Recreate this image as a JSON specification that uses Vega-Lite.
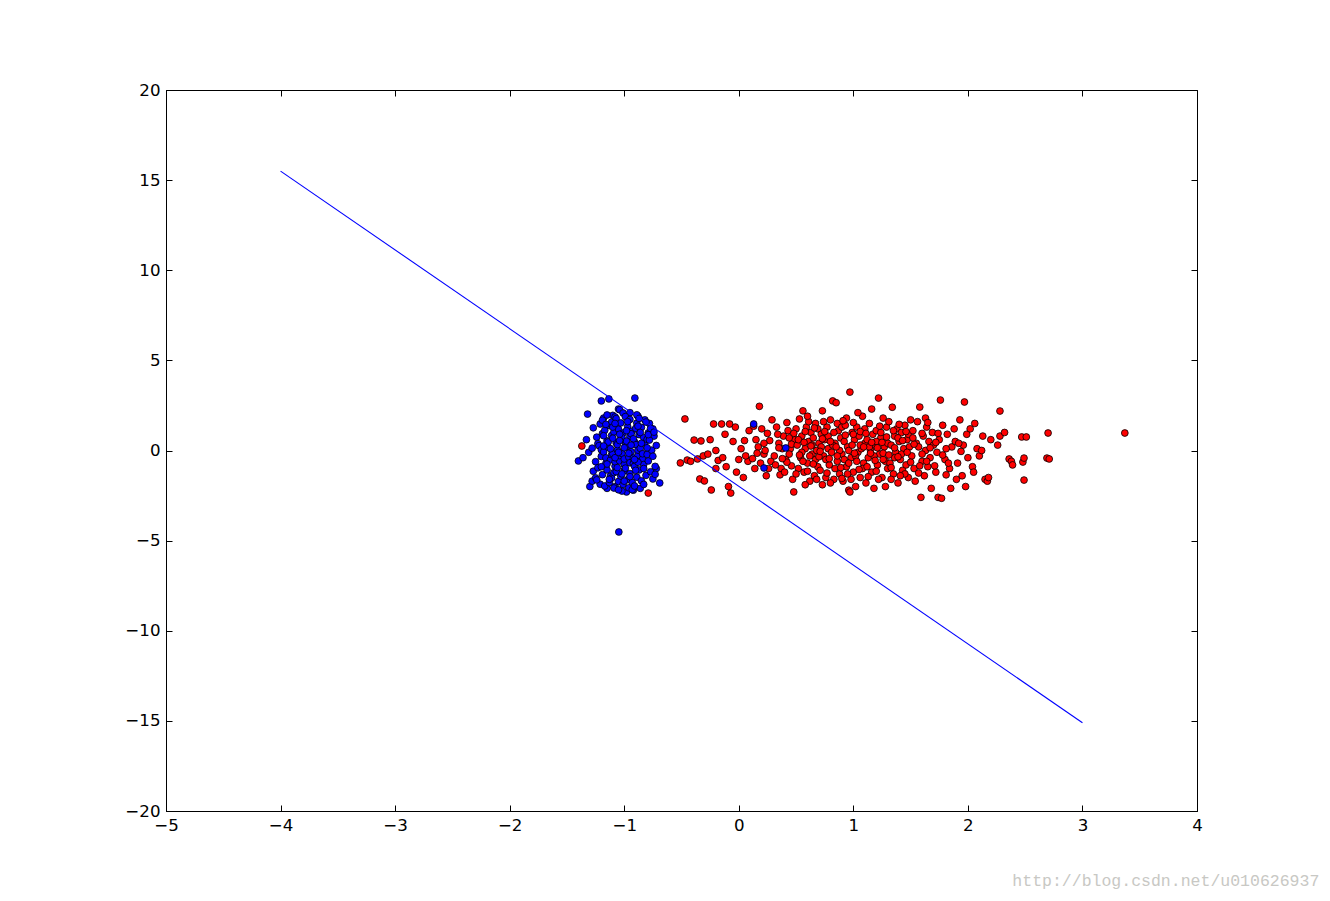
{
"$schema": "https://vega.github.io/schema/vega-lite/v6.json",
"width": 1031, "height": 721,
"autosize": {"type": "none"},
"padding": {"left": 166, "top": 90, "right": 133, "bottom": 90},
"background": "white",
"title": {"text": "http://blog.csdn.net/u010626937", "orient": "bottom", "anchor": "end", "dx": 117, "offset": 39, "font": "Liberation Mono", "fontSize": 16.5, "fontWeight": "normal", "color": "#c8c8c4", "baseline": "top"},
"config": {
  "view": {"stroke": "black", "strokeWidth": 1},
  "axis": {"grid": false, "labelFont": "DejaVu Sans", "labelFontSize": 16.67, "labelColor": "black", "tickColor": "black", "domainColor": "black", "domainWidth": 1, "tickWidth": 1, "tickSize": -6, "labelPadding": 12, "title": null, "labelOverlap": false, "labelFlush": false}
},
"datasets": {
  "red": [
{"x":-1.37,"y":0.25},{"x":-0.79,"y":-2.36},
{"x":-0.47,"y":1.75},{"x":-0.51,"y":-0.69},{"x":-0.45,"y":-0.53},{"x":-0.39,"y":0.58},{"x":-0.36,"y":-0.47},{"x":-0.34,"y":-1.58},{"x":-0.30,"y":-1.69},{"x":-0.33,"y":0.53},{"x":-0.42,"y":-0.6},{"x":-0.31,"y":-0.3},
{"x":-0.24,"y":-2.19},{"x":-0.22,"y":1.47},{"x":-0.15,"y":1.47},{"x":-0.27,"y":-0.2},{"x":-0.2,"y":0.0},{"x":-0.18,"y":-0.55},{"x":-0.12,"y":0.9},{"x":-0.25,"y":0.6},{"x":-0.14,"y":-0.4},{"x":-0.11,"y":-0.9},{"x":-0.2,"y":-1.0},
{"x":-0.07,"y":-2.36},{"x":-0.09,"y":-2.0},{"x":-0.08,"y":1.47},{"x":-0.03,"y":1.3},{"x":-0.05,"y":0.5},{"x":0.0,"y":-0.5},{"x":0.02,"y":0.1},{"x":0.05,"y":0.55},{"x":0.08,"y":-0.6},{"x":-0.02,"y":-1.2},{"x":0.06,"y":-0.3},{"x":0.09,"y":1.1},{"x":0.04,"y":-1.5},
{"x":0.12,"y":-0.45},{"x":0.15,"y":0.6},{"x":0.18,"y":2.45},{"x":0.2,"y":1.2},{"x":0.22,"y":-0.2},{"x":0.25,"y":0.95},{"x":0.28,"y":-0.6},{"x":0.14,"y":-1.0},{"x":0.17,"y":0.2},{"x":0.24,"y":-1.4},{"x":0.27,"y":0.55},{"x":0.19,"y":-0.7},{"x":0.29,"y":1.7},{"x":0.23,"y":0.0},{"x":0.13,"y":1.35},
{"x":0.31,"y":-0.3},{"x":0.33,"y":1.3},{"x":0.35,"y":0.4},{"x":0.37,"y":-1.0},{"x":0.39,"y":0.8},{"x":0.41,"y":-0.5},{"x":0.43,"y":1.1},{"x":0.45,"y":0.1},{"x":0.47,"y":-1.6},{"x":0.49,"y":0.6},{"x":0.32,"y":-0.8},{"x":0.34,"y":0.9},{"x":0.36,"y":-1.35},{"x":0.38,"y":0.1},{"x":0.42,"y":1.55},{"x":0.44,"y":-0.2},{"x":0.46,"y":0.35},{"x":0.48,"y":-2.3},{"x":0.5,"y":1.2},{"x":0.4,"y":-1.2},{"x":0.46,"y":-0.85},
{"x":0.51,"y":0.3},{"x":0.52,"y":-1.0},{"x":0.53,"y":1.75},{"x":0.54,"y":-0.4},{"x":0.55,"y":0.8},{"x":0.56,"y":2.2},{"x":0.57,"y":-1.2},{"x":0.58,"y":0.1},{"x":0.59,"y":1.3},{"x":0.6,"y":-0.7},{"x":0.61,"y":0.5},{"x":0.62,"y":-1.7},{"x":0.63,"y":1.0},{"x":0.64,"y":-0.2},{"x":0.65,"y":0.7},{"x":0.66,"y":-1.4},{"x":0.67,"y":1.5},{"x":0.68,"y":0.0},{"x":0.69,"y":-0.9},{"x":0.7,"y":0.4},{"x":0.52,"y":0.6},{"x":0.55,"y":-0.1},{"x":0.58,"y":-1.9},{"x":0.61,"y":1.6},{"x":0.64,"y":0.3},{"x":0.67,"y":-0.5},{"x":0.69,"y":1.2},{"x":0.56,"y":-0.6},{"x":0.62,"y":-0.3},
{"x":0.71,"y":-1.1},{"x":0.72,"y":0.9},{"x":0.73,"y":2.2},{"x":0.74,"y":-0.3},{"x":0.75,"y":0.6},{"x":0.76,"y":-1.5},{"x":0.77,"y":1.3},{"x":0.78,"y":0.1},{"x":0.79,"y":-0.8},{"x":0.8,"y":1.7},{"x":0.81,"y":-0.1},{"x":0.82,"y":2.75},{"x":0.83,"y":-1.6},{"x":0.84,"y":0.4},{"x":0.85,"y":2.65},{"x":0.86,"y":-0.6},{"x":0.87,"y":1.1},{"x":0.88,"y":-1.3},{"x":0.89,"y":0.7},{"x":0.9,"y":-0.2},{"x":0.72,"y":0.2},{"x":0.74,"y":1.6},{"x":0.76,"y":-0.5},{"x":0.78,"y":0.8},{"x":0.8,"y":-1.8},{"x":0.82,"y":0.3},{"x":0.84,"y":-1.0},{"x":0.86,"y":1.5},{"x":0.88,"y":0.0},{"x":0.9,"y":1.3},{"x":0.73,"y":-1.9},
{"x":0.91,"y":-1.7},{"x":0.92,"y":0.5},{"x":0.93,"y":1.4},{"x":0.94,"y":-0.9},{"x":0.95,"y":0.2},{"x":0.96,"y":-2.2},{"x":0.97,"y":3.24},{"x":0.98,"y":-0.4},{"x":0.99,"y":1.0},{"x":1.0,"y":-1.2},{"x":1.01,"y":0.6},{"x":1.02,"y":-2.0},{"x":1.03,"y":1.3},{"x":1.04,"y":-0.1},{"x":1.05,"y":0.8},{"x":1.06,"y":-1.5},{"x":1.07,"y":0.1},{"x":1.08,"y":1.9},{"x":1.09,"y":-0.7},{"x":1.1,"y":0.4},{"x":0.92,"y":-0.5},{"x":0.94,"y":1.8},{"x":0.96,"y":0.0},{"x":0.98,"y":-1.6},{"x":1.0,"y":0.9},{"x":1.02,"y":-0.3},{"x":1.04,"y":2.1},{"x":1.06,"y":0.3},{"x":1.08,"y":-1.0},{"x":1.1,"y":1.2},{"x":0.97,"y":-2.3},
{"x":1.11,"y":-1.8},{"x":1.12,"y":0.6},{"x":1.13,"y":-0.4},{"x":1.14,"y":1.5},{"x":1.15,"y":0.0},{"x":1.16,"y":-1.2},{"x":1.17,"y":0.9},{"x":1.18,"y":-2.1},{"x":1.19,"y":0.3},{"x":1.2,"y":1.1},{"x":1.21,"y":-0.8},{"x":1.22,"y":2.91},{"x":1.23,"y":-0.2},{"x":1.24,"y":0.7},{"x":1.25,"y":-1.5},{"x":1.26,"y":1.8},{"x":1.27,"y":0.2},{"x":1.28,"y":-0.6},{"x":1.29,"y":1.3},{"x":1.3,"y":-1.0},{"x":1.12,"y":-0.9},{"x":1.14,"y":0.2},{"x":1.16,"y":2.3},{"x":1.18,"y":-0.3},{"x":1.2,"y":0.5},{"x":1.22,"y":-1.6},{"x":1.24,"y":1.0},{"x":1.26,"y":-0.5},{"x":1.28,"y":-2.0},{"x":1.3,"y":0.4},
{"x":1.31,"y":1.6},{"x":1.32,"y":-0.7},{"x":1.33,"y":0.3},{"x":1.34,"y":2.4},{"x":1.35,"y":-1.3},{"x":1.36,"y":0.8},{"x":1.37,"y":-0.1},{"x":1.38,"y":1.2},{"x":1.39,"y":-1.8},{"x":1.4,"y":0.5},{"x":1.41,"y":-0.5},{"x":1.42,"y":1.0},{"x":1.43,"y":-1.1},{"x":1.44,"y":0.1},{"x":1.45,"y":1.4},{"x":1.46,"y":-0.8},{"x":1.47,"y":0.6},{"x":1.48,"y":-1.5},{"x":1.49,"y":0.2},{"x":1.5,"y":1.7},{"x":1.33,"y":-1.6},{"x":1.36,"y":-0.4},{"x":1.39,"y":0.7},{"x":1.42,"y":-0.2},{"x":1.45,"y":-1.3},{"x":1.48,"y":0.9},
{"x":1.51,"y":-0.3},{"x":1.52,"y":1.1},{"x":1.53,"y":-1.0},{"x":1.55,"y":0.4},{"x":1.56,"y":1.6},{"x":1.58,"y":2.41},{"x":1.59,"y":-2.6},{"x":1.6,"y":-0.6},{"x":1.61,"y":0.8},{"x":1.62,"y":-1.4},{"x":1.63,"y":0.0},{"x":1.64,"y":1.3},{"x":1.65,"y":-0.9},{"x":1.66,"y":0.5},{"x":1.68,"y":-2.1},{"x":1.69,"y":1.0},{"x":1.54,"y":-1.7},{"x":1.57,"y":0.2},{"x":1.6,"y":-0.2},{"x":1.63,"y":1.8},{"x":1.67,"y":-0.4},{"x":1.7,"y":0.3},
{"x":1.72,"y":-1.2},{"x":1.74,"y":-2.6},{"x":1.76,"y":2.8},{"x":1.75,"y":0.6},{"x":1.78,"y":1.4},{"x":1.8,"y":-0.5},{"x":1.82,"y":0.9},{"x":1.84,"y":-1.0},{"x":1.86,"y":0.2},{"x":1.88,"y":1.2},{"x":1.9,"y":-1.6},{"x":1.73,"y":-0.1},{"x":1.77,"y":-2.65},{"x":1.81,"y":0.1},{"x":1.85,"y":-2.1},{"x":1.89,"y":0.5},
{"x":1.91,"y":-0.7},{"x":1.93,"y":1.7},{"x":1.95,"y":-1.4},{"x":1.97,"y":2.69},{"x":1.98,"y":-2.0},{"x":1.96,"y":0.3},{"x":1.99,"y":0.9},{"x":2.0,"y":-0.4},{"x":2.02,"y":1.2},{"x":2.04,"y":-0.9},{"x":2.06,"y":1.5},{"x":2.08,"y":0.1},{"x":2.1,"y":-0.3},{"x":1.94,"y":-0.05},
{"x":2.13,"y":0.8},{"x":2.15,"y":-1.6},{"x":2.17,"y":-1.7},{"x":2.2,"y":0.6},{"x":2.26,"y":0.3},{"x":2.28,"y":2.19},{"x":2.28,"y":0.8},{"x":2.18,"y":-1.5},{"x":2.32,"y":1.0},
{"x":2.36,"y":-0.47},{"x":2.38,"y":-0.6},{"x":2.39,"y":-0.8},{"x":2.47,"y":0.75},{"x":2.49,"y":-1.64},{"x":2.48,"y":-0.64},{"x":2.49,"y":-0.42},
{"x":2.51,"y":0.75},{"x":2.69,"y":-0.42},{"x":2.71,"y":-0.47},{"x":2.70,"y":0.97},{"x":3.37,"y":0.97},
{"x":0.35,"y":0.15},{"x":0.42,"y":-0.65},{"x":0.48,"y":0.95},{"x":0.53,"y":-0.25},{"x":0.57,"y":0.45},{"x":0.6,"y":-1.15},{"x":0.63,"y":0.25},{"x":0.66,"y":1.25},{"x":0.7,"y":-0.35},{"x":0.73,"y":0.65},{"x":0.77,"y":-1.25},{"x":0.8,"y":0.5},{"x":0.83,"y":1.0},{"x":0.86,"y":-0.3},{"x":0.89,"y":-0.95},{"x":0.93,"y":0.85},{"x":0.96,"y":-0.7},{"x":0.99,"y":0.3},{"x":1.03,"y":-0.6},{"x":1.06,"y":1.05},{"x":1.09,"y":0.2},{"x":1.13,"y":-1.45},{"x":1.16,"y":0.45},{"x":1.19,"y":-0.55},{"x":1.23,"y":1.35},{"x":1.26,"y":-0.15},{"x":1.29,"y":0.75},{"x":1.33,"y":-0.95},{"x":1.36,"y":0.15},{"x":1.39,"y":-0.35},{"x":1.43,"y":0.55},{"x":1.46,"y":1.05},{"x":1.5,"y":-0.65},{"x":1.53,"y":0.35},{"x":1.57,"y":-1.25},{"x":1.6,"y":0.95},{"x":1.64,"y":-0.6},{"x":1.67,"y":0.15},{"x":1.71,"y":-0.85},{"x":1.74,"y":0.95},{"x":1.78,"y":-0.25},{"x":1.81,"y":-1.35},{"x":0.38,"y":-0.45},{"x":0.44,"y":0.7},{"x":0.5,"y":-1.3},{"x":0.58,"y":1.05},{"x":0.65,"y":-0.75},{"x":0.71,"y":-0.05},{"x":0.75,"y":1.05},{"x":0.79,"y":-0.45},{"x":0.85,"y":0.2},{"x":0.91,"y":1.65},{"x":0.95,"y":-1.3},{"x":1.01,"y":-0.15},{"x":1.05,"y":-1.05},{"x":1.11,"y":0.95},{"x":1.15,"y":-0.15},{"x":1.21,"y":0.15},{"x":1.25,"y":0.45},{"x":1.31,"y":-0.25},{"x":1.35,"y":1.1},{"x":1.41,"y":-1.4},{"x":1.47,"y":-0.1},{"x":1.52,"y":0.7},{"x":1.58,"y":-0.85},{"x":1.65,"y":1.55},{"x":1.72,"y":0.45},{"x":1.83,"y":-0.7},{"x":1.92,"y":0.4},{"x":2.05,"y":-1.2},{"x":2.12,"y":0.0},{"x":0.22,"y":0.4},{"x":0.16,"y":-0.15},{"x":0.26,"y":-1.0},{"x":1.0,"y":1.55},{"x":0.9,"y":-1.55},{"x":1.2,"y":-1.15},{"x":1.4,"y":1.45},{"x":0.68,"y":-1.6},{"x":0.6,"y":1.9}
  ],
  "blue": [
{"x":-1.047,"y":-4.52},{"x":-0.907,"y":2.91},{"x":-1.134,"y":2.86},{"x":-1.20,"y":2.75},{"x":-1.32,"y":2.02},{"x":-1.40,"y":-0.58},{"x":-0.69,"y":-1.80},{"x":-1.30,"y":-2.0},{"x":-1.28,"y":-1.7},{"x":-0.72,"y":-1.0},{"x":-0.74,"y":0.8},{"x":-0.75,"y":1.2},{"x":-1.33,"y":0.6},{"x":-1.31,"y":-0.1},{"x":-1.36,"y":-0.4},{"x":-0.98,"y":-2.3},{"x":-1.02,"y":-2.25},{"x":-0.92,"y":-2.2},{"x":-1.08,"y":-2.0},{"x":-1.15,"y":-2.1},{"x":-0.86,"y":-2.1},{"x":-1.05,"y":2.3},{"x":-0.95,"y":2.1},{"x":-0.88,"y":1.9},{"x":-1.1,"y":1.95},{"x":-1.18,"y":1.8},{"x":-0.82,"y":1.7},{"x":-0.78,"y":1.5},
{"x":0.13,"y":1.47},{"x":0.41,"y":0.14},{"x":0.22,"y":-0.97},
{"x":-1.27,"y":-1.15},{"x":-1.25,"y":-0.62},{"x":-1.28,"y":0.13},{"x":-1.24,"y":0.74},{"x":-1.27,"y":1.26},{"x":-1.25,"y":-1.52},{"x":-1.23,"y":0.38},
{"x":-1.21,"y":-1.87},{"x":-1.23,"y":-0.96},{"x":-1.20,"y":-0.33},{"x":-1.22,"y":0.27},{"x":-1.19,"y":0.94},{"x":-1.21,"y":1.47},{"x":-1.24,"y":-1.63},{"x":-1.20,"y":0.04},
{"x":-1.17,"y":-1.97},{"x":-1.19,"y":-1.34},{"x":-1.16,"y":-0.72},{"x":-1.18,"y":-0.08},{"x":-1.15,"y":0.53},{"x":-1.17,"y":1.12},{"x":-1.19,"y":1.68},{"x":-1.16,"y":-0.41},{"x":-1.18,"y":0.82},
{"x":-1.13,"y":-1.78},{"x":-1.15,"y":-1.08},{"x":-1.12,"y":-0.52},{"x":-1.14,"y":0.18},{"x":-1.11,"y":0.83},{"x":-1.13,"y":1.38},{"x":-1.15,"y":1.97},{"x":-1.12,"y":-1.42},{"x":-1.14,"y":0.47},{"x":-1.11,"y":-0.23},
{"x":-1.09,"y":-2.08},{"x":-1.11,"y":-1.53},{"x":-1.08,"y":-0.87},{"x":-1.10,"y":-0.18},{"x":-1.07,"y":0.42},{"x":-1.09,"y":1.03},{"x":-1.11,"y":1.58},{"x":-1.08,"y":-0.63},{"x":-1.10,"y":0.68},{"x":-1.08,"y":1.86},{"x":-1.09,"y":-1.23},
{"x":-1.05,"y":-1.72},{"x":-1.07,"y":-1.17},{"x":-1.04,"y":-0.58},{"x":-1.06,"y":0.03},{"x":-1.03,"y":0.62},{"x":-1.05,"y":1.18},{"x":-1.07,"y":1.77},{"x":-1.04,"y":-0.28},{"x":-1.06,"y":0.33},{"x":-1.05,"y":-2.18},{"x":-1.04,"y":2.26},
{"x":-1.01,"y":-1.88},{"x":-1.03,"y":-1.42},{"x":-1.00,"y":-0.78},{"x":-1.02,"y":-0.17},{"x":-0.99,"y":0.43},{"x":-1.01,"y":0.97},{"x":-1.03,"y":1.53},{"x":-1.00,"y":-0.47},{"x":-1.02,"y":0.72},{"x":-1.01,"y":2.08},{"x":-1.00,"y":-1.12},
{"x":-0.97,"y":-1.62},{"x":-0.99,"y":-0.98},{"x":-0.96,"y":-0.37},{"x":-0.98,"y":0.22},{"x":-0.95,"y":0.78},{"x":-0.97,"y":1.33},{"x":-0.99,"y":1.88},{"x":-0.96,"y":-2.07},{"x":-0.98,"y":0.52},{"x":-0.95,"y":-0.68},
{"x":-0.93,"y":-1.77},{"x":-0.95,"y":-1.28},{"x":-0.92,"y":-0.72},{"x":-0.94,"y":-0.07},{"x":-0.91,"y":0.48},{"x":-0.93,"y":1.08},{"x":-0.95,"y":1.72},{"x":-0.92,"y":-0.42},{"x":-0.94,"y":0.93},{"x":-0.93,"y":-2.17},
{"x":-0.89,"y":-1.48},{"x":-0.91,"y":-0.88},{"x":-0.88,"y":-0.27},{"x":-0.90,"y":0.33},{"x":-0.87,"y":0.88},{"x":-0.89,"y":1.52},{"x":-0.91,"y":-1.97},{"x":-0.88,"y":0.02},{"x":-0.90,"y":1.23},{"x":-0.89,"y":1.98},
{"x":-0.85,"y":-1.68},{"x":-0.87,"y":-1.08},{"x":-0.84,"y":-0.48},{"x":-0.86,"y":0.12},{"x":-0.83,"y":0.72},{"x":-0.85,"y":1.28},{"x":-0.87,"y":1.78},{"x":-0.84,"y":-0.18},
{"x":-0.81,"y":-1.38},{"x":-0.83,"y":-0.78},{"x":-0.80,"y":-0.22},{"x":-0.82,"y":0.42},{"x":-0.79,"y":0.98},{"x":-0.81,"y":1.58},{"x":-0.83,"y":-1.88},{"x":-0.80,"y":0.62},
{"x":-0.77,"y":-1.18},{"x":-0.79,"y":-0.58},{"x":-0.76,"y":0.02},{"x":-0.78,"y":0.58},{"x":-0.77,"y":1.22},{"x":-0.75,"y":-1.58},{"x":-0.79,"y":0.88},
{"x":-0.73,"y":-0.88},{"x":-0.75,"y":-0.32},{"x":-0.72,"y":0.28},{"x":-0.74,"y":1.02},{"x":-0.73,"y":-1.32},
{"x":-1.12,"y":0.1},{"x":-1.08,"y":-0.4},{"x":-1.04,"y":0.9},{"x":-1.0,"y":0.15},{"x":-0.96,"y":-0.15},{"x":-0.92,"y":0.65},{"x":-0.88,"y":-0.65},{"x":-1.06,"y":-0.95},{"x":-0.98,"y":1.1},{"x":-1.15,"y":-0.75},{"x":-0.85,"y":0.4},{"x":-1.02,"y":-1.3},{"x":-0.94,"y":0.3},{"x":-1.1,"y":1.3},{"x":-0.9,"y":-1.1},{"x":-1.0,"y":-1.7},{"x":-1.08,"y":1.5},{"x":-0.86,"y":1.0},{"x":-1.18,"y":0.25},{"x":-0.8,"y":0.15},{"x":-1.13,"y":-1.6},{"x":-0.97,"y":1.6},{"x":-1.05,"y":-0.1},{"x":-0.91,"y":-0.5},{"x":-1.2,"y":-0.9},{"x":-0.83,"y":-1.0},{"x":-1.04,"y":0.55},{"x":-0.95,"y":-1.45},{"x":-1.16,"y":1.45},{"x":-0.88,"y":1.35}
  ],
  "line": [{"x": -4, "y": 15.5}, {"x": 3, "y": -15.1}]
},
"layer": [
  {"data": {"name": "red"}, "mark": {"type": "point", "shape": "circle", "filled": true, "fill": "#ff0000", "stroke": "black", "strokeWidth": 0.8, "size": 46, "opacity": 1},
   "encoding": {
     "x": {"field": "x", "type": "quantitative", "scale": {"domain": [-5, 4], "nice": false, "zero": false}, "axis": {"orient": "bottom", "values": [-5,-4,-3,-2,-1,0,1,2,3,4]}},
     "y": {"field": "y", "type": "quantitative", "scale": {"domain": [-20, 20], "nice": false, "zero": false}, "axis": {"orient": "left", "values": [-20,-15,-10,-5,0,5,10,15,20]}}
   }},
  {"data": {"name": "blue"}, "mark": {"type": "point", "shape": "circle", "filled": true, "fill": "#0000ff", "stroke": "black", "strokeWidth": 0.8, "size": 46, "opacity": 1},
   "encoding": {
     "x": {"field": "x", "type": "quantitative", "axis": null},
     "y": {"field": "y", "type": "quantitative", "axis": null}
   }},
  {"data": {"name": "line"}, "mark": {"type": "line", "color": "#0000ff", "strokeWidth": 1.1},
   "encoding": {
     "x": {"field": "x", "type": "quantitative", "axis": {"orient": "top", "labels": false, "domain": false, "values": [-5,-4,-3,-2,-1,0,1,2,3,4]}},
     "y": {"field": "y", "type": "quantitative", "axis": {"orient": "right", "labels": false, "domain": false, "values": [-20,-15,-10,-5,0,5,10,15,20]}}
   }}
],
"resolve": {"axis": {"x": "independent", "y": "independent"}}
}
